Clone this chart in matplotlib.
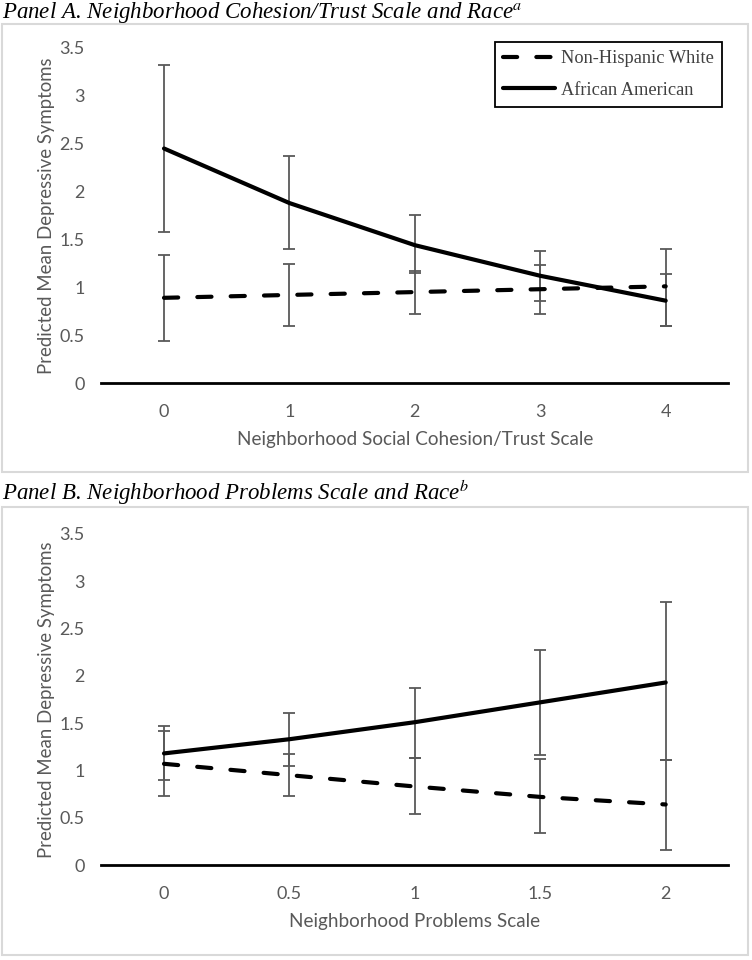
import matplotlib
matplotlib.use("Agg")
import matplotlib.pyplot as plt
from matplotlib.patches import Rectangle
from matplotlib.lines import Line2D

# ---------------- data ----------------
cohesion_x = [0, 1, 2, 3, 4]
a_aa = [2.45, 1.88, 1.44, 1.12, 0.86]
a_aa_hi = [3.32, 2.37, 1.76, 1.38, 1.14]
a_aa_lo = [1.58, 1.40, 1.15, 0.86, 0.60]
a_nhw = [0.89, 0.92, 0.95, 0.98, 1.01]
a_nhw_hi = [1.34, 1.24, 1.17, 1.23, 1.40]
a_nhw_lo = [0.44, 0.60, 0.72, 0.72, 0.60]

problems_x = [0, 0.5, 1, 1.5, 2]
b_aa = [1.18, 1.33, 1.51, 1.72, 1.93]
b_aa_hi = [1.47, 1.61, 1.87, 2.27, 2.78]
b_aa_lo = [0.90, 1.05, 1.13, 1.16, 1.11]
b_nhw = [1.07, 0.95, 0.83, 0.72, 0.64]
b_nhw_hi = [1.42, 1.17, 1.13, 1.12, 1.11]
b_nhw_lo = [0.73, 0.73, 0.54, 0.34, 0.16]

y_ticks = [0, 0.5, 1, 1.5, 2, 2.5, 3, 3.5]
y_ticklabels = ["0", "0.5", "1", "1.5", "2", "2.5", "3", "3.5"]
a_xticklabels = ["0", "1", "2", "3", "4"]
b_xticklabels = ["0", "0.5", "1", "1.5", "2"]

series_names = ["Non-Hispanic White", "African American"]
title_a = r"Panel A. Neighborhood Cohesion/Trust Scale and Race$^{a}$"
title_b = r"Panel B. Neighborhood Problems Scale and Race$^{b}$"
ylabel = "Predicted Mean Depressive Symptoms"
xlabel_a = "Neighborhood Social Cohesion/Trust Scale"
xlabel_b = "Neighborhood Problems Scale"

# ---------------- style ----------------
W, H = 752, 960
plt.rcParams["mathtext.fontset"] = "stix"
tick_font = "Lato"
gray = "#595959"
lw_line = 3.0
DASH = (3.4, 4.6)

fig = plt.figure(figsize=(W / 100, H / 100), dpi=100)


def px_rect(x0, y0, x1, y1):
    return [x0 / W, 1 - y1 / H, (x1 - x0) / W, (y1 - y0) / H]


# panel frames
for (y0, y1) in [(24, 472), (507, 955)]:
    fig.patches.append(Rectangle((2 / W, 1 - y1 / H), 746 / W, (y1 - y0) / H,
                                 transform=fig.transFigure, fill=False,
                                 edgecolor="#d9d9d9", linewidth=1.5))

ax_a = fig.add_axes(px_rect(101.3, 48, 728.4, 383))
ax_b = fig.add_axes(px_rect(101.3, 534, 728.4, 865))


def draw(ax, x, aa, aa_lo, aa_hi, nhw, nhw_lo, nhw_hi, xlim, xticklabels, xlabel):
    for m, lo, hi in [(aa, aa_lo, aa_hi), (nhw, nhw_lo, nhw_hi)]:
        err = [[mi - l for mi, l in zip(m, lo)], [h - mi for mi, h in zip(m, hi)]]
        ax.errorbar(x, m, yerr=err, fmt="none", ecolor=gray, elinewidth=1.3,
                    capsize=4.5, capthick=1.3, zorder=2)
    ax.plot(x, nhw, color="black", lw=lw_line, dashes=DASH,
            dash_capstyle="round", solid_capstyle="round", zorder=3)
    ax.plot(x, aa, color="black", lw=lw_line, solid_capstyle="round", zorder=3)
    ax.set_xlim(*xlim)
    ax.set_ylim(0, 3.5)
    ax.set_xticks(x)
    ax.set_xticklabels(xticklabels)
    ax.set_yticks(y_ticks)
    ax.set_yticklabels(y_ticklabels)
    for s in ["top", "right", "left"]:
        ax.spines[s].set_visible(False)
    ax.spines["bottom"].set_color("black")
    ax.spines["bottom"].set_linewidth(2.0)
    ax.tick_params(axis="both", length=0, labelsize=13, labelcolor=gray)
    ax.tick_params(axis="y", pad=12)
    ax.tick_params(axis="x", pad=15)
    for lab in ax.get_xticklabels() + ax.get_yticklabels():
        lab.set_fontfamily(tick_font)
    ax.set_xlabel(xlabel, fontsize=13.6, color=gray, family=tick_font, labelpad=8)
    ax.set_ylabel(ylabel, fontsize=13.4, color=gray, family=tick_font, labelpad=3)
    ax.patch.set_alpha(0)


draw(ax_a, cohesion_x, a_aa, a_aa_lo, a_aa_hi, a_nhw, a_nhw_lo, a_nhw_hi,
     (-0.5, 4.5), a_xticklabels, xlabel_a)
draw(ax_b, problems_x, b_aa, b_aa_lo, b_aa_hi, b_nhw, b_nhw_lo, b_nhw_hi,
     (-0.25, 2.25), b_xticklabels, xlabel_b)

h_n = Line2D([], [], color="black", lw=lw_line, dashes=DASH, dash_capstyle="round")
h_a = Line2D([], [], color="black", lw=lw_line, solid_capstyle="round")
leg = ax_a.legend([h_n, h_a], series_names, loc="upper right",
                  bbox_to_anchor=(0.9898, 1.018), borderaxespad=0,
                  prop={"family": "Liberation Serif", "size": 13.2},
                  labelcolor="#404040", frameon=True, fancybox=False,
                  edgecolor="black", framealpha=1, handlelength=2.85,
                  handletextpad=0.3, borderpad=0.45, labelspacing=0.78)
leg.get_frame().set_linewidth(1.3)

# size the serif titles so that "Panel A. ... Trust " spans ~374 px as in the reference
renderer = fig.canvas.get_renderer()
probe = fig.text(0, 0, "Panel A. Neighborhood Cohesion/Trust S", family="Liberation Serif",
                 style="italic", fontsize=16)
w_probe = probe.get_window_extent(renderer).width
probe.remove()
title_fs = 16 * 374 / max(w_probe - 0.5 * 16 * 100 / 72 * 0.5, 1)
title_fs = min(max(title_fs, 15.0), 17.5)

fig.text(2 / W, 1 - 18 / H, title_a, family="Liberation Serif", style="italic",
         fontsize=title_fs, color="black", ha="left", va="baseline")
fig.text(2 / W, 1 - 500 / H, title_b, family="Liberation Serif", style="italic",
         fontsize=title_fs, color="black", ha="left", va="baseline")

fig.savefig("out.png", dpi=100)
